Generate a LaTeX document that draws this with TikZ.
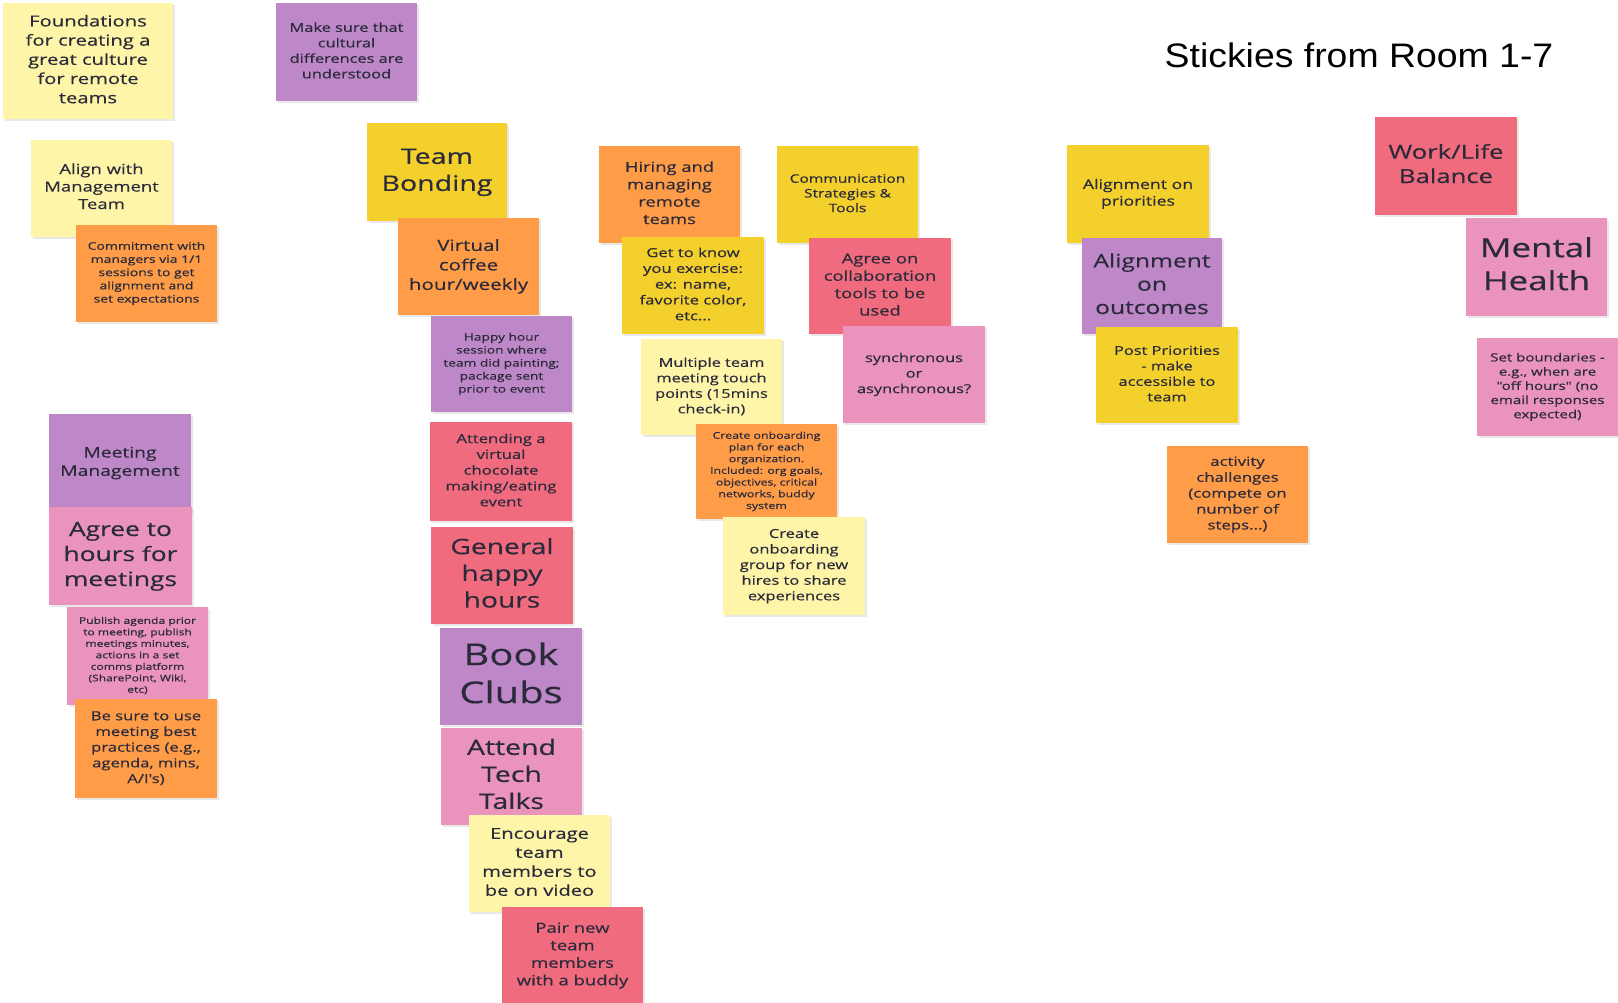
\documentclass[tikz,border=0pt]{standalone}
\usepackage{fontspec}
\usepackage{graphicx}
\setmainfont{Open Sans}[Ligatures=TeXOff, FakeBold=0.35]
\newfontfamily\titlefont{Liberation Sans}
\usetikzlibrary{shadows}
\definecolor{cLY}{HTML}{FEF5A8}
\definecolor{cY}{HTML}{F4D02C}
\definecolor{cO}{HTML}{FE9C47}
\definecolor{cP}{HTML}{BE87C7}
\definecolor{cR}{HTML}{F06B7E}
\definecolor{cK}{HTML}{EA93BC}
\definecolor{ink}{HTML}{2A2A3A}
\newcommand{\stxt}[3]{\scalebox{1.33}[1]{\fontsize{#1}{#2}\selectfont\begin{tabular}{@{}c@{}}#3\end{tabular}}}
\tikzset{
  sticky/.style={rectangle, inner sep=0pt, minimum width=141pt, minimum height=97pt,
    align=center, text=ink,
    drop shadow={opacity=0.18, shadow xshift=1.5pt, shadow yshift=-2pt}},
  titlenode/.style={inner sep=0pt, text=black}
}
\begin{document}
\begin{tikzpicture}[x=1pt,y=-1pt]
\fill[white] (0,0) rectangle (1618,1002);
\useasboundingbox (0,0) rectangle (1618,1002);

\node[titlenode] (title) at (1359,55) {\scalebox{1.1}[1]{\titlefont\fontsize{34}{40}\selectfont Stickies from Room 1-7}};

% column 1
\node[sticky, fill=cLY, minimum width=170pt, minimum height=116pt] (found) at (88,61)
  {\stxt{15.2}{19.2}{Foundations\\for creating a\\great culture\\for remote\\teams}};
\node[sticky, fill=cLY] (align) at (101.5,188)
  {\stxt{13.9}{17.5}{Align with\\Management\\Team}};
\node[sticky, fill=cO] (commit) at (146.5,273.5)
  {\stxt{10.5}{13.2}{Commitment with\\managers via 1/1\\sessions to get\\alignment and\\set expectations}};

\node[sticky, fill=cP, minimum width=142pt, minimum height=98pt] (meet) at (120,463)
  {\stxt{14.5}{18.3}{Meeting\\Management}};
\node[sticky, fill=cK, minimum width=143pt, minimum height=98pt] (hours) at (120.5,556)
  {\stxt{19.8}{25}{Agree to\\hours for\\meetings}};
\node[sticky, fill=cK, minimum height=98pt] (publish) at (137.5,656)
  {\stxt{9.1}{11.5}{Publish agenda prior\\to meeting, publish\\meetings minutes,\\actions in a set\\comms platform\\(SharePoint, Wiki,\\etc)}};
\node[sticky, fill=cO, minimum width=142pt, minimum height=99pt] (besure) at (146,748.5)
  {\stxt{12.5}{15.7}{Be sure to use\\meeting best\\practices (e.g.,\\agenda, mins,\\A/I's)}};

% column 2
\node[sticky, fill=cP, minimum height=98pt] (cult) at (346.5,52)
  {\stxt{12.3}{15.5}{Make sure that\\cultural\\differences are\\understood}};
\node[sticky, fill=cY, minimum width=140pt, minimum height=98pt] (tb) at (437,172)
  {\stxt{21.4}{27}{Team\\Bonding}};
\node[sticky, fill=cO] (coffee) at (468.5,266.5)
  {\stxt{15.5}{19.5}{Virtual\\coffee\\hour/weekly}};
\node[sticky, fill=cP, minimum height=96pt] (happy) at (501.5,364)
  {\stxt{10.3}{13}{Happy hour\\session where\\team did painting;\\package sent\\prior to event}};
\node[sticky, fill=cR, minimum width=142pt, minimum height=99pt] (choc) at (501,471.5)
  {\stxt{12.5}{15.8}{Attending a\\virtual\\chocolate\\making/eating\\event}};
\node[sticky, fill=cR, minimum width=142pt] (general) at (502,575.5)
  {\stxt{21.2}{26.7}{General\\happy\\hours}};
\node[sticky, fill=cP, minimum width=142pt] (book) at (511,676.5)
  {\stxt{30}{38}{Book\\Clubs}};
\node[sticky, fill=cK] (tech) at (511.5,776.5)
  {\stxt{21.4}{27}{Attend\\Tech\\Talks}};
\node[sticky, fill=cLY] (video) at (539.5,863.5)
  {\stxt{15.1}{19}{Encourage\\team\\members to\\be on video}};
\node[sticky, fill=cR] (buddy) at (572.5,955.5)
  {\stxt{13.9}{17.5}{Pair new\\team\\members\\with a buddy}};

% column 3
\node[sticky, fill=cO] (hiring) at (669.5,194.5)
  {\stxt{13.8}{17.4}{Hiring and\\managing\\remote\\teams}};
\node[sticky, fill=cY, minimum width=142pt] (getknow) at (693,285.5)
  {\stxt{12.5}{15.8}{Get to know\\you exercise:\\ex: name,\\favorite color,\\etc...}};
\node[sticky, fill=cLY, minimum height=96pt] (touch) at (711.5,387)
  {\stxt{12.3}{15.5}{Multiple team\\meeting touch\\points (15mins\\check-in)}};
\node[sticky, fill=cO, minimum height=95pt] (plan) at (766.5,471.5)
  {\stxt{9.3}{11.7}{Create onboarding\\plan for each\\organization.\\Included: org goals,\\objectives, critical\\networks, buddy\\system}};
\node[sticky, fill=cLY, minimum width=142pt, minimum height=98pt] (group) at (794,566)
  {\stxt{12.4}{15.6}{Create\\onboarding\\group for new\\hires to share\\experiences}};

% column 4
\node[sticky, fill=cY] (comm) at (847.5,194.5)
  {\stxt{11.7}{14.7}{Communication\\Strategies \&\\Tools}};
\node[sticky, fill=cR, minimum width=142pt, minimum height=96pt] (collab) at (880,286)
  {\stxt{13.8}{17.4}{Agree on\\collaboration\\tools to be\\used}};
\node[sticky, fill=cK, minimum width=142pt] (sync) at (914,374.5)
  {\stxt{12.3}{15.5}{synchronous\\or\\asynchronous?}};

% column 5
\node[sticky, fill=cY, minimum width=142pt, minimum height=98pt] (prio) at (1138,194)
  {\stxt{13.3}{16.7}{Alignment on\\priorities}};
\node[sticky, fill=cP, minimum width=140pt, minimum height=96pt] (outc) at (1152,286)
  {\stxt{18.5}{23.3}{Alignment\\on\\outcomes}};
\node[sticky, fill=cY, minimum width=142pt, minimum height=96pt] (post) at (1167,375)
  {\stxt{12.3}{15.5}{Post Priorities\\- make\\accessible to\\team}};
\node[sticky, fill=cO] (activ) at (1237.5,494.5)
  {\stxt{12.6}{15.9}{activity\\challenges\\(compete on\\number of\\steps...)}};

% column 6
\node[sticky, fill=cR, minimum width=142pt, minimum height=98pt] (work) at (1446,166)
  {\stxt{19.3}{24.3}{Work/Life\\Balance}};
\node[sticky, fill=cK, minimum height=98pt] (mental) at (1536.5,267)
  {\stxt{26.2}{33}{Mental\\Health}};
\node[sticky, fill=cK, minimum height=98pt] (bound) at (1547.5,387)
  {\stxt{11.3}{14.2}{Set boundaries -\\e.g., when are\\"off hours" (no\\email responses\\expected)}};
\end{tikzpicture}
\end{document}
